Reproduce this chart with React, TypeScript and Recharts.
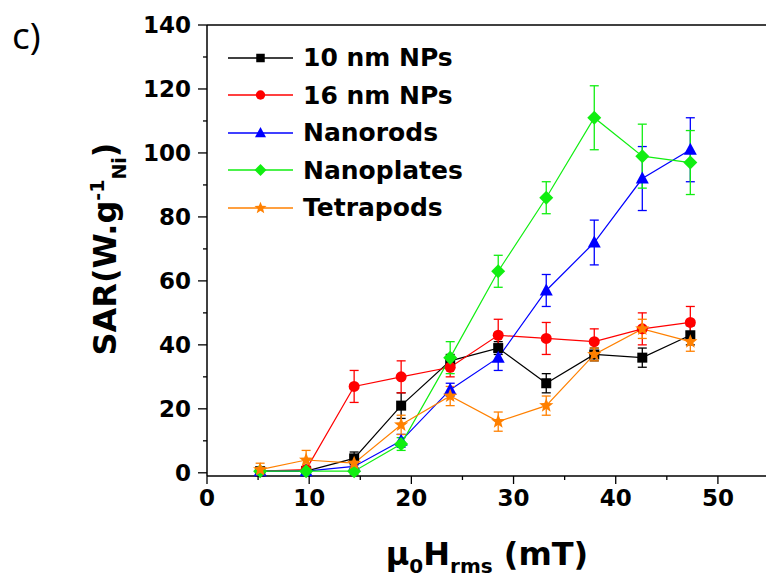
import { LineChart, Line, XAxis, YAxis, ErrorBar, Legend, ReferenceLine } from 'recharts'

// applied field (mT)
const field = [5.2, 9.7, 14.4, 19.0, 23.8, 28.5, 33.2, 37.9, 42.6, 47.3]

// SAR values (W/g Ni) and error bars
const nm10 = [0.5, 0.5, 4.5, 21, 35, 39, 28, 37, 36, 43]
const nm10Err = [1, 1, 2, 4, 2, 2, 3, 2, 3, 3]
const nm16 = [0.5, 1, 27, 30, 33, 43, 42, 41, 45, 47]
const nm16Err = [1, 1, 5, 5, 3, 5, 5, 4, 5, 5]
const rods = [0.5, 0.5, 2, 10, 26, 36, 57, 72, 92, 101]
const rodsErr = [1, 1, 1, 2, 2, 4, 5, 7, 10, 10]
const plates = [0.5, 0.5, 0.5, 9, 36, 63, 86, 111, 99, 97]
const platesErr = [1, 1, 1, 2, 5, 5, 5, 10, 10, 10]
const tetra = [1, 4, 3, 15, 24, 16, 21, 37, 45, 41]
const tetraErr = [2, 3, 2, 3, 3, 3, 3, 2, 3, 3]

const xTicks = [0, 5, 10, 15, 20, 25, 30, 35, 40, 45, 50]
const yTicks = [0, 10, 20, 30, 40, 50, 60, 70, 80, 90, 100, 110, 120, 130, 140]

const seriesList = [
  { key: 'nm10', name: '10 nm NPs', color: '#000000', shape: 'square' },
  { key: 'nm16', name: '16 nm NPs', color: '#ff0000', shape: 'circle' },
  { key: 'rods', name: 'Nanorods', color: '#0000ff', shape: 'triangle' },
  { key: 'plates', name: 'Nanoplates', color: '#11ee11', shape: 'diamond' },
  { key: 'tetra', name: 'Tetrapods', color: '#ff8000', shape: 'star' },
]

const data = field.map((x, i) => ({
  x,
  nm10: nm10[i], nm10Err: nm10Err[i],
  nm16: nm16[i], nm16Err: nm16Err[i],
  rods: rods[i], rodsErr: rodsErr[i],
  plates: plates[i], platesErr: platesErr[i],
  tetra: tetra[i], tetraErr: tetraErr[i],
}))

const FONT = "'DejaVu Sans', 'Liberation Sans', Arial, sans-serif"

const Marker = ({ shape, cx, cy, color, s = 1 }: any) => {
  if (cx == null || cy == null) return null
  switch (shape) {
    case 'square':
      return <rect x={cx - 5 * s} y={cy - 5 * s} width={10 * s} height={10 * s} fill={color} />
    case 'circle':
      return <circle cx={cx} cy={cy} r={5.5 * s} fill={color} />
    case 'triangle':
      return <polygon points={`${cx},${cy - 7 * s} ${cx + 6.5 * s},${cy + 5 * s} ${cx - 6.5 * s},${cy + 5 * s}`} fill={color} />
    case 'diamond':
      return <polygon points={`${cx},${cy - 7 * s} ${cx + 7 * s},${cy} ${cx},${cy + 7 * s} ${cx - 7 * s},${cy}`} fill={color} />
    default: {
      const pts = []
      for (let k = 0; k < 10; k++) {
        const r = (k % 2 === 0 ? 7.5 : 3.2) * s
        const a = -Math.PI / 2 + (k * Math.PI) / 5
        pts.push(`${cx + r * Math.cos(a)},${cy + r * Math.sin(a)}`)
      }
      return <polygon points={pts.join(' ')} fill={color} />
    }
  }
}

const YTick = (props: any) => {
  const { x, y, payload } = props
  const major = payload.value % 20 === 0
  return (
    <g>
      <line x1={x} x2={x - (major ? 9 : 4)} y1={y} y2={y} stroke="#000" strokeWidth={1.3} />
      {major && (
        <text x={x - 16} y={y + 8} textAnchor="end" fontFamily={FONT} fontWeight="bold" fontSize={23} fill="#000">
          {payload.value}
        </text>
      )}
    </g>
  )
}

const XTick = (props: any) => {
  const { x, y, payload } = props
  const major = payload.value % 10 === 0
  return (
    <g>
      <line x1={x} x2={x} y1={y} y2={y + (major ? 8 : 4)} stroke="#000" strokeWidth={1.3} />
      {major && (
        <text x={x} y={y + 30} textAnchor="middle" fontFamily={FONT} fontWeight="bold" fontSize={23} fill="#000">
          {payload.value}
        </text>
      )}
    </g>
  )
}

const YTitle = () => (
  <text transform="translate(116, 249) rotate(-90)" textAnchor="middle" fontFamily={FONT} fontWeight="bold" fontSize={32} fill="#000">
    SAR(W.g<tspan dy={-12} fontSize={19}>-1</tspan>
    <tspan dy={22} fontSize={19}>Ni</tspan>
    <tspan dy={-10}>)</tspan>
  </text>
)

const XTitle = () => (
  <text x={487} y={565} textAnchor="middle" fontFamily={FONT} fontWeight="bold" fontSize={32} fill="#000">
    μ<tspan dy={8} fontSize={20}>0</tspan>
    <tspan dy={-8}>H</tspan>
    <tspan dy={8} fontSize={20}>rms</tspan>
    <tspan dy={-8}> (mT)</tspan>
  </text>
)

const LegendBox = () => (
  <div style={{ display: 'flex', flexDirection: 'column' }}>
    {seriesList.map((s) => (
      <div key={s.key} style={{ display: 'flex', alignItems: 'center', height: 37.5 }}>
        <svg width={65} height={20} style={{ overflow: 'visible' }}>
          <line x1={0} x2={65} y1={10} y2={10} stroke={s.color} strokeWidth={1.3} />
          <Marker shape={s.shape} cx={32.5} cy={10} color={s.color} s={0.85} />
        </svg>
        <span style={{ marginLeft: 10, fontFamily: FONT, fontWeight: 'bold', fontSize: 25, color: '#000', whiteSpace: 'nowrap' }}>
          {s.name}
        </span>
      </div>
    ))}
  </div>
)

export default function App() {
  return (
    <div style={{ position: 'absolute', left: 0, top: 0, width: 766, height: 578, overflow: 'hidden', background: '#fff' }}>
      <div style={{ position: 'absolute', left: 12, top: 9, fontFamily: "'Open Sans', sans-serif", fontSize: 37 }}>c)</div>
      <LineChart width={772} height={578} data={data} margin={{ top: 25, right: 3, bottom: 0, left: 0 }}>
        <XAxis
          dataKey="x"
          type="number"
          domain={[0, 55]}
          ticks={xTicks}
          interval={0}
          height={102}
          tickSize={0}
          tickMargin={0}
          tickLine={false}
          tick={<XTick />}
          axisLine={{ stroke: '#000', strokeWidth: 1.5 }}
          label={<XTitle />}
        />
        <YAxis
          type="number"
          domain={[0, 140]}
          ticks={yTicks}
          interval={0}
          width={207}
          tickSize={0}
          tickMargin={0}
          tickLine={false}
          tick={<YTick />}
          axisLine={{ stroke: '#000', strokeWidth: 1.5 }}
          label={<YTitle />}
        />
        <ReferenceLine y={140} stroke="#000" strokeWidth={1.5} />
        <Legend
          layout="vertical"
          align="center"
          verticalAlign="middle"
          content={<LegendBox />}
          wrapperStyle={{ left: 228, top: 39, width: 280, height: 190 }}
        />
        {seriesList.map((s) => (
          <Line
            key={s.key}
            dataKey={s.key}
            name={s.name}
            stroke={s.color}
            strokeWidth={1.2}
            isAnimationActive={false}
            activeDot={false}
            dot={(p: any) => (
              <g key={`${s.key}-${p.index}`}>
                <Marker shape={s.shape} cx={p.cx} cy={p.cy} color={s.color} />
              </g>
            )}
          >
            <ErrorBar dataKey={`${s.key}Err`} direction="y" width={4.5} stroke={s.color} strokeWidth={1.3} />
          </Line>
        ))}
      </LineChart>
    </div>
  )
}
